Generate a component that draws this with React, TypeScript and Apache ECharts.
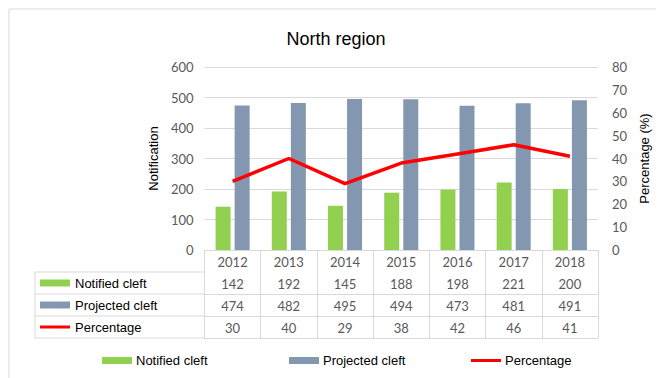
import React, { useEffect, useRef } from "react";
import * as echarts from "echarts";

const years = ["2012", "2013", "2014", "2015", "2016", "2017", "2018"];
const notified = [142, 192, 145, 188, 198, 221, 200];
const projected = [474, 482, 495, 494, 473, 481, 491];
const percentage = [30, 40, 29, 38, 42, 46, 41];
const seriesNames = ["Notified cleft", "Projected cleft", "Percentage"];

const GREEN = "#92d050";
const BLUE = "#8497b0";
const RED = "#ff0000";
const GRIDC = "#d9d9d9";
const TICKC = "#595959";

const W = 656;
const H = 370;
const GL = 196.5;
const GR = 590;
const GT = 59;
const GB = 242;
const ROW = 22;
const TBL_LEFT = 27;

export default function App() {
  const ref = useRef<HTMLDivElement>(null);
  useEffect(() => {
    if (!ref.current) return;
    const chart = echarts.init(ref.current, null, { renderer: "svg" });
    const numFont = "Lato";
    const rowAxis = (data: (string | number)[], offset: number, show: boolean) => ({
      type: "category",
      position: "bottom",
      gridIndex: 0,
      offset,
      data: data.map((d) => String(d)),
      axisLine: { show: true, lineStyle: { color: GRIDC, width: 1 } },
      axisTick: { show: false },
      axisLabel: {
        show,
        interval: 0,
        margin: 5,
        color: TICKC,
        fontSize: 13,
        fontFamily: numFont,
      },
      splitLine: { show: false },
    });
    const graphics: any[] = [
      {
        type: "rect",
        shape: { x: 1, y: 1, width: W + 40, height: H + 40 },
        style: { fill: "none", stroke: GRIDC, lineWidth: 1 },
        silent: true,
      },
    ];
    for (let i = 1; i <= 4; i++) {
      const y = GB + i * ROW;
      graphics.push({
        type: "line",
        shape: { x1: TBL_LEFT, y1: y, x2: GL, y2: y },
        style: { stroke: GRIDC, lineWidth: 1 },
      });
    }
    graphics.push({
      type: "line",
      shape: { x1: TBL_LEFT, y1: GB + ROW, x2: TBL_LEFT, y2: GB + 4 * ROW },
      style: { stroke: GRIDC, lineWidth: 1 },
    });
    const colors = [GREEN, BLUE, RED];
    seriesNames.forEach((name, i) => {
      const cy = GB + ROW * (i + 1) + ROW / 2;
      if (i < 2) {
        graphics.push({
          type: "rect",
          shape: { x: 32, y: cy - 3.5, width: 30, height: 7 },
          style: { fill: colors[i] },
        });
      } else {
        graphics.push({
          type: "line",
          shape: { x1: 32, y1: cy, x2: 62, y2: cy },
          style: { stroke: colors[i], lineWidth: 3 },
        });
      }
      graphics.push({
        type: "text",
        x: 67,
        y: cy,
        style: {
          text: name,
          fill: "#000",
          fontSize: 13,
          fontFamily: "Liberation Sans",
          verticalAlign: "middle",
          align: "left",
        },
      });
    });

    const legendBase = {
      bottom: 6,
      itemWidth: 30,
      itemHeight: 7,
      itemGap: 0,
      textStyle: { color: "#000", fontSize: 13, fontFamily: "Liberation Sans", padding: [0, 0, 0, -1] },
    };

    chart.setOption({
      animation: false,
      title: {
        text: "North region",
        left: "center",
        top: 17,
        textStyle: { fontSize: 18, fontWeight: "normal", color: "#000", fontFamily: "Liberation Sans" },
      },
      graphic: graphics,
      legend: [
        { ...legendBase, left: 89, data: [{ name: seriesNames[0], icon: "rect" }] },
        { ...legendBase, left: 276, data: [{ name: seriesNames[1], icon: "rect" }] },
        {
          ...legendBase,
          left: 458,
          itemHeight: 3,
          data: [{ name: seriesNames[2], icon: "rect" }],
        },
      ],
      grid: { left: GL, right: W - GR, top: GT, bottom: H - GB, containLabel: false },
      xAxis: [
        {
          type: "category",
          data: years,
          position: "bottom",
          axisLine: { show: true, lineStyle: { color: GRIDC } },
          axisTick: { show: true, length: ROW * 4, lineStyle: { color: GRIDC } },
          axisLabel: { interval: 0, margin: 5, color: TICKC, fontSize: 13, fontFamily: numFont },
          splitLine: { show: false },
        },
        rowAxis(notified, ROW, true),
        rowAxis(projected, ROW * 2, true),
        rowAxis(percentage, ROW * 3, true),
        rowAxis(years.map(() => ""), ROW * 4, false),
      ],
      yAxis: [
        {
          type: "value",
          min: 0,
          max: 600,
          interval: 100,
          name: "Notification",
          nameLocation: "middle",
          nameGap: 45,
          nameTextStyle: { color: "#000", fontSize: 13, fontFamily: "Liberation Sans" },
          axisLine: { show: false },
          axisTick: { show: false },
          axisLabel: { color: TICKC, fontSize: 13, fontFamily: numFont, margin: 11 },
          splitLine: { lineStyle: { color: GRIDC } },
        },
        {
          type: "value",
          min: 0,
          max: 80,
          interval: 10,
          position: "right",
          name: "Percentage (%)",
          nameLocation: "middle",
          nameGap: 40,
          nameTextStyle: { color: "#000", fontSize: 13, fontFamily: "Liberation Sans" },
          axisLine: { show: false },
          axisTick: { show: false },
          axisLabel: { color: TICKC, fontSize: 13, fontFamily: numFont, margin: 14 },
          splitLine: { show: false },
        },
      ],
      series: [
        {
          name: seriesNames[0],
          type: "bar",
          xAxisIndex: 0,
          yAxisIndex: 0,
          data: notified,
          barWidth: 15,
          barGap: "27%",
          itemStyle: { color: GREEN },
        },
        {
          name: seriesNames[1],
          type: "bar",
          xAxisIndex: 0,
          yAxisIndex: 0,
          data: projected,
          barWidth: 15,
          barGap: "27%",
          itemStyle: { color: BLUE },
        },
        {
          name: seriesNames[2],
          type: "line",
          xAxisIndex: 0,
          yAxisIndex: 1,
          data: percentage,
          symbol: "none",
          lineStyle: { color: RED, width: 3.5 },
          itemStyle: { color: RED },
        },
      ],
    });
    return () => chart.dispose();
  }, []);
  return <div ref={ref} style={{ width: W, height: H, overflow: "hidden" }} />;
}
